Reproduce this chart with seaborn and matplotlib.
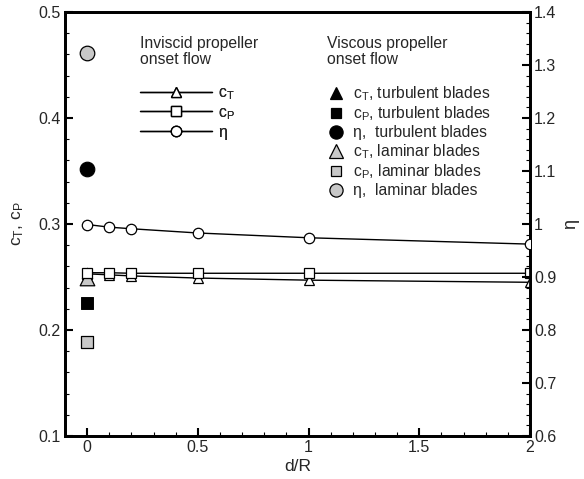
import numpy as np
import pandas as pd
import matplotlib
matplotlib.use("Agg")
import matplotlib.pyplot as plt
import seaborn as sns
from matplotlib.lines import Line2D
from matplotlib.ticker import MultipleLocator, FuncFormatter

sns.set_theme(style="white")
plt.rcParams["font.family"] = ["Liberation Sans", "DejaVu Sans"]
plt.rcParams["mathtext.fontset"] = "custom"
plt.rcParams["mathtext.rm"] = "Liberation Sans"
plt.rcParams["mathtext.it"] = "Liberation Sans"

# Inviscid propeller onset flow, as a function of d/R
d_over_R = [0.0, 0.1, 0.2, 0.5, 1.0, 2.0]
ct_inviscid = [0.253, 0.252, 0.251, 0.249, 0.247, 0.245]
cp_inviscid = [0.254, 0.254, 0.2535, 0.2535, 0.2535, 0.2535]
eta_inviscid = [0.999, 0.994, 0.991, 0.983, 0.974, 0.962]

# Viscous propeller onset flow (d/R = 0 only)
ct_turbulent, cp_turbulent, eta_turbulent = 0.254, 0.2255, 1.104
ct_laminar, cp_laminar, eta_laminar = 0.249, 0.1885, 1.322

df = pd.DataFrame({"dR": d_over_R, "cT": ct_inviscid,
                   "cP": cp_inviscid, "eta": eta_inviscid})

fig = plt.figure(figsize=(5.84, 4.79), dpi=100)
ax = fig.add_axes([0.1113, 0.0898, 0.7962, 0.8852])
ax2 = ax.twinx()

lw = 1.0
sns.lineplot(data=df, x="dR", y="cT", ax=ax, color="black", lw=lw,
             marker="^", markersize=7.5, markerfacecolor="white",
             markeredgecolor="black", markeredgewidth=0.9, zorder=4)
sns.lineplot(data=df, x="dR", y="cP", ax=ax, color="black", lw=lw,
             marker="s", markersize=6.5, markerfacecolor="white",
             markeredgecolor="black", markeredgewidth=0.9, zorder=6)
sns.lineplot(data=df, x="dR", y="eta", ax=ax2, color="black", lw=lw,
             marker="o", markersize=7.5, markerfacecolor="white",
             markeredgecolor="black", markeredgewidth=0.9, zorder=4)

gray = "#c8c8c8"
sns.scatterplot(x=[0.0], y=[ct_turbulent], ax=ax, marker="^", s=60,
                color="black", edgecolor="black", zorder=3)
sns.scatterplot(x=[0.0], y=[ct_laminar], ax=ax, marker="^", s=110,
                color=gray, edgecolor="black", linewidth=0.9, zorder=5)
sns.scatterplot(x=[0.0], y=[cp_turbulent], ax=ax, marker="s", s=70,
                color="black", edgecolor="black", zorder=5)
sns.scatterplot(x=[0.0], y=[cp_laminar], ax=ax, marker="s", s=70,
                color=gray, edgecolor="black", linewidth=0.9, zorder=5)
sns.scatterplot(x=[0.0], y=[eta_turbulent], ax=ax2, marker="o", s=110,
                color="black", edgecolor="black", zorder=5)
sns.scatterplot(x=[0.0], y=[eta_laminar], ax=ax2, marker="o", s=110,
                color=gray, edgecolor="black", linewidth=0.9, zorder=5)

ax.set_xlim(-0.1, 2.0)
ax.set_ylim(0.1, 0.5)
ax2.set_ylim(0.6, 1.4)

fs = 11.5
ax.set_xlabel("d/R", fontsize=12.5, labelpad=3)
ax.set_ylabel(r"c$_\mathregular{T}$, c$_\mathregular{P}$", fontsize=12.5,
              labelpad=9)
ax2.set_ylabel("η", fontsize=13, labelpad=4)

ax.xaxis.set_major_locator(MultipleLocator(0.5))
ax.xaxis.set_minor_locator(MultipleLocator(0.1))
ax.yaxis.set_major_locator(MultipleLocator(0.1))
ax.yaxis.set_minor_locator(MultipleLocator(0.02))
ax2.yaxis.set_major_locator(MultipleLocator(0.1))
ax2.yaxis.set_minor_locator(MultipleLocator(0.02))
fmt = FuncFormatter(lambda v, p: f"{v:g}")
ax.xaxis.set_major_formatter(fmt)
ax.yaxis.set_major_formatter(fmt)
ax2.yaxis.set_major_formatter(fmt)

for a in (ax, ax2):
    a.tick_params(which="both", direction="in", color="black", labelsize=fs,
                  pad=3)
    a.tick_params(which="major", length=6, width=1.5)
    a.tick_params(which="minor", length=3, width=0.8)
    for s in a.spines.values():
        s.set_color("black")
        s.set_linewidth(2.0)
ax.tick_params(axis="x", which="both", bottom=True, top=False)
ax.tick_params(axis="y", which="both", left=True, right=False)
ax2.tick_params(axis="y", which="both", right=True, left=False)
ax.grid(False)
ax2.grid(False)

lfs = 11.3
# Legend: inviscid onset flow
tkw = dict(fontsize=lfs, transform=fig.transFigure, va="top", ha="left")
fig.text(140 / 584, 1 - 36 / 479, "Inviscid propeller\nonset flow",
         linespacing=1.12, **tkw)
h_inv = [
    Line2D([], [], color="black", lw=lw, marker="^", markersize=7.5,
           markerfacecolor="white", markeredgecolor="black"),
    Line2D([], [], color="black", lw=lw, marker="s", markersize=6.5,
           markerfacecolor="white", markeredgecolor="black"),
    Line2D([], [], color="black", lw=lw, marker="o", markersize=7.5,
           markerfacecolor="white", markeredgecolor="black"),
]
l_inv = [r"c$_\mathregular{T}$", r"c$_\mathregular{P}$", "η"]
leg1 = ax.legend(h_inv, l_inv, loc="upper left",
                 bbox_to_anchor=(140 / 584, 1 - 85 / 479),
                 bbox_transform=fig.transFigure, frameon=False, fontsize=lfs,
                 handlelength=4.6, handletextpad=0.4, labelspacing=0.2,
                 borderpad=0, borderaxespad=0)
ax.add_artist(leg1)

# Legend: viscous onset flow
fig.text(327 / 584, 1 - 36 / 479, "Viscous propeller\nonset flow",
         linespacing=1.12, **tkw)
def pt(marker, face, ms):
    return Line2D([], [], ls="none", marker=marker, markersize=ms,
                  markerfacecolor=face, markeredgecolor="black",
                  markeredgewidth=0.9)
h_vis = [pt("^", "black", 9), pt("s", "black", 7), pt("o", "black", 9.5),
         pt("^", gray, 9.5), pt("s", gray, 7), pt("o", gray, 9.5)]
l_vis = [r"c$_\mathregular{T}$, turbulent blades",
         r"c$_\mathregular{P}$, turbulent blades",
         "η,  turbulent blades",
         r"c$_\mathregular{T}$, laminar blades",
         r"c$_\mathregular{P}$, laminar blades",
         "η,  laminar blades"]
leg2 = ax2.legend(h_vis, l_vis, loc="upper left",
                  bbox_to_anchor=(328 / 584, 1 - 84 / 479),
                  bbox_transform=fig.transFigure, frameon=False, fontsize=lfs,
                  handlelength=1.0, handletextpad=0.6, labelspacing=0.12,
                  borderpad=0, borderaxespad=0)

fig.savefig("out.png", dpi=100)
